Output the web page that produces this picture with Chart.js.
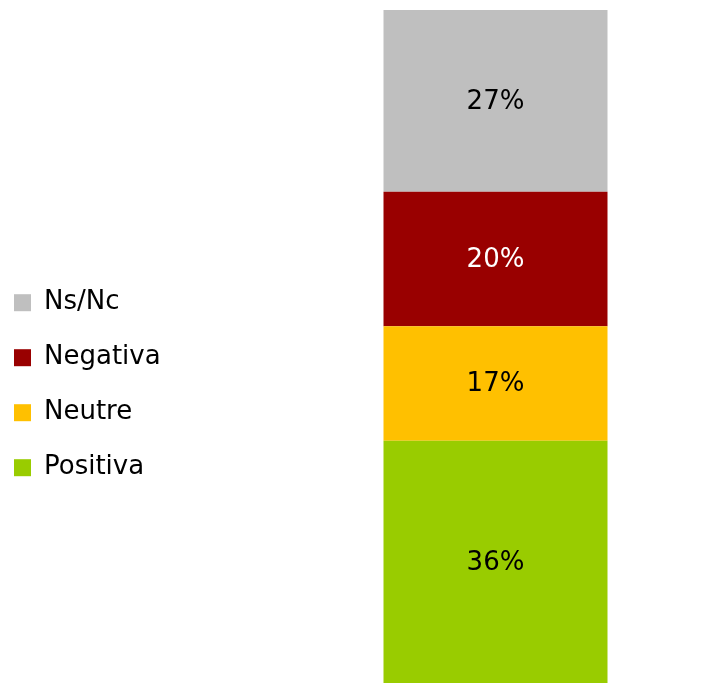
<!DOCTYPE html>
<html>
<head>
<meta charset="utf-8">
<script src="https://cdn.jsdelivr.net/npm/chart.js@4"></script>
<style>
  html, body { margin: 0; padding: 0; background: #fff; }
  #wrap { width: 709px; height: 683px; }
</style>
</head>
<body>
<div id="wrap"><canvas id="grafico"></canvas></div>
<script>
// Série única empilhada: de baixo para cima
const categorias = [''];
const series     = ['Positiva', 'Neutre', 'Negativa', 'Ns/Nc'];
const valores    = [36, 17, 20, 27];
const cores      = ['#99CC00', '#FFC000', '#990000', '#BFBFBF'];
const corTexto   = ['#000', '#000', '#fff', '#000'];

const FONTE = "'DejaVu Sans', sans-serif";

// rótulos % no centro de cada segmento
const rotulos = {
    id: 'rotulos',
    afterDatasetsDraw(chart) {
        const ctx = chart.ctx;
        ctx.save();
        ctx.font = '26px ' + FONTE;
        ctx.textAlign = 'center';
        ctx.textBaseline = 'middle';
        chart.data.datasets.forEach((ds, i) => {
            chart.getDatasetMeta(i).data.forEach((bar, j) => {
                const p = bar.getProps(['x', 'y', 'base'], true);
                ctx.fillStyle = corTexto[i];
                ctx.fillText(ds.data[j] + '%', p.x, (p.y + p.base) / 2 + 1);
            });
        });
        ctx.restore();
    }
};

new Chart(document.getElementById('grafico'), {
    type: 'bar',
    data: {
        labels: categorias,
        datasets: series.map((nome, i) => ({
            label: nome,
            data: [valores[i]],
            backgroundColor: cores[i],
            borderWidth: 0,
            categoryPercentage: 1,
            barPercentage: 0.5246
        }))
    },
    options: {
        responsive: true,
        maintainAspectRatio: false,
        animation: false,
        layout: { padding: { top: 10, bottom: 0, left: -15, right: 0 } },
        plugins: {
            tooltip: { enabled: false },
            legend: {
                position: 'left',
                reverse: true,
                title: { display: true, text: '', padding: { top: 63, bottom: 0 } },
                labels: {
                    color: '#000',
                    boxWidth: 17,
                    boxHeight: 17,
                    padding: 29,
                    font: { size: 26, family: FONTE }
                }
            }
        },
        scales: {
            x: { stacked: true, display: false, grid: { display: false } },
            y: {
                stacked: true, min: 0, max: 100,
                ticks: { display: false },
                grid: { display: false },
                border: { display: false },
                // eixo invisível só para afastar a barra da legenda
                afterFit(scale) { scale.width = 116; }
            }
        }
    },
    plugins: [rotulos]
});
</script>
</body>
</html>
